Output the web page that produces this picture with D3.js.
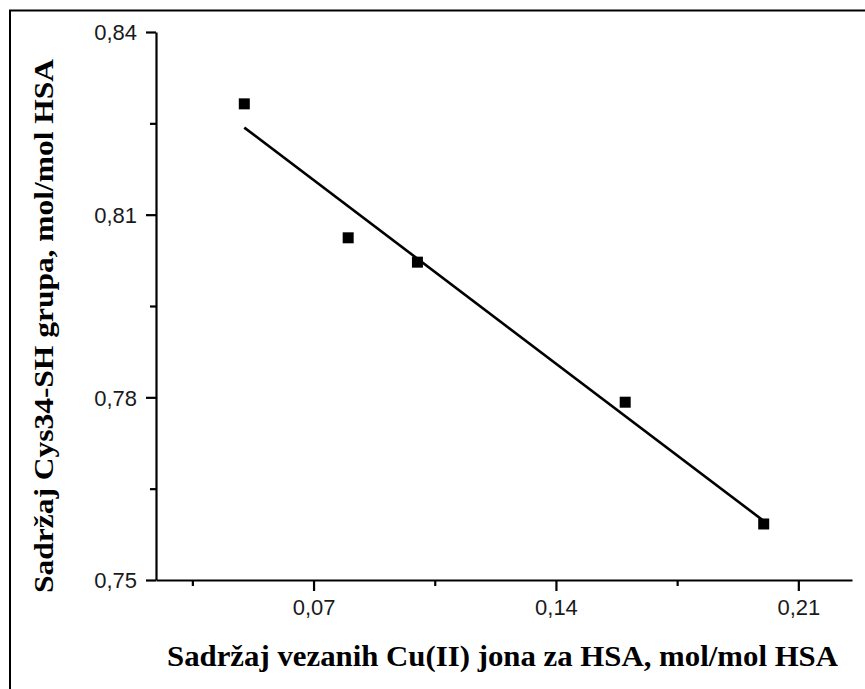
<!DOCTYPE html>
<html>
<head>
<meta charset="utf-8">
<script src="https://cdn.jsdelivr.net/npm/d3@7/dist/d3.min.js"></script>
<style>
  html, body { margin: 0; padding: 0; background: #fff; }
  svg { display: block; }
</style>
</head>
<body>
<svg id="chart" width="865" height="689"></svg>
<script>
// Measured Cu(II) bound vs. free Cys34-SH content
const cuBound = [0.05, 0.08, 0.10, 0.16, 0.20];
const cysSH   = [0.8282, 0.8062, 0.8022, 0.7792, 0.7592];

// Linear fit drawn across the measured range
const fitX = [0.05, 0.20];
const fitY = [0.8243, 0.7597];

const xMajor = [0.07, 0.14, 0.21];
const xMinor = [0.035, 0.105, 0.175];
const yMajor = [0.75, 0.78, 0.81, 0.84];
const yMinor = [0.765, 0.795, 0.825];

const xTitle = "Sadržaj vezanih Cu(II) jona za HSA, mol/mol HSA";
const yTitle = "Sadržaj Cys34-SH grupa, mol/mol HSA";

const svg = d3.select("#chart");

const x = d3.scaleLinear().domain([0.0245, 0.2255]).range([156, 852]);
const y = d3.scaleLinear().domain([0.75, 0.84]).range([580, 32]);

const fmt = v => d3.format(".2f")(v).replace(".", ",");

// outer frame (top and left edges)
svg.append("path")
  .attr("d", "M10,689V10.5H865")
  .attr("fill", "none").attr("stroke", "#000").attr("stroke-width", 2);

const tickFont = "'Liberation Sans', Arial, sans-serif";

// x axis
const gx = svg.append("g").attr("transform", `translate(0,580)`);
gx.call(d3.axisBottom(x).tickValues(xMajor).tickSize(11).tickSizeOuter(0).tickFormat(fmt));
gx.append("g").call(d3.axisBottom(x).tickValues(xMinor).tickSize(6).tickSizeOuter(0).tickFormat(""))
  .select(".domain").remove();

// y axis
const gy = svg.append("g").attr("transform", `translate(156,0)`);
gy.call(d3.axisLeft(y).tickValues(yMajor).tickSize(10).tickSizeOuter(0).tickFormat(fmt));
gy.append("g").call(d3.axisLeft(y).tickValues(yMinor).tickSize(6).tickSizeOuter(0).tickFormat(""))
  .select(".domain").remove();

svg.selectAll(".domain").attr("stroke", "#000").attr("stroke-width", 2.2);
svg.selectAll(".tick line").attr("stroke", "#000").attr("stroke-width", 2.2);
svg.selectAll(".tick text")
  .style("font-family", tickFont).style("font-size", "22px").attr("fill", "#1a1a1a");
gx.selectAll(".tick text").attr("dy", "1.0em").attr("y", 13);
gy.selectAll(".tick text").attr("x", -19).attr("dy", "0.36em");

// fitted line
svg.append("path")
  .datum(fitX.map((v, i) => [v, fitY[i]]))
  .attr("d", d3.line().x(d => x(d[0])).y(d => y(d[1])))
  .attr("fill", "none").attr("stroke", "#000").attr("stroke-width", 2.6);

// data markers
const s = 11;
svg.append("g").selectAll("rect")
  .data(cuBound.map((v, i) => [v, cysSH[i]]))
  .join("rect")
  .attr("x", d => x(d[0]) - s / 2)
  .attr("y", d => y(d[1]) - s / 2)
  .attr("width", s).attr("height", s)
  .attr("fill", "#000");

// axis titles
const titleFont = "'Liberation Serif', 'Times New Roman', serif";
svg.append("text")
  .attr("x", 167).attr("y", 666)
  .attr("font-family", titleFont).attr("font-weight", "bold").attr("font-size", 29)
  .attr("textLength", 671).attr("lengthAdjust", "spacingAndGlyphs")
  .text(xTitle);

svg.append("text")
  .attr("transform", "translate(53,593) rotate(-90)")
  .attr("font-family", titleFont).attr("font-weight", "bold").attr("font-size", 28)
  .attr("textLength", 534).attr("lengthAdjust", "spacingAndGlyphs")
  .text(yTitle);
</script>
</body>
</html>
